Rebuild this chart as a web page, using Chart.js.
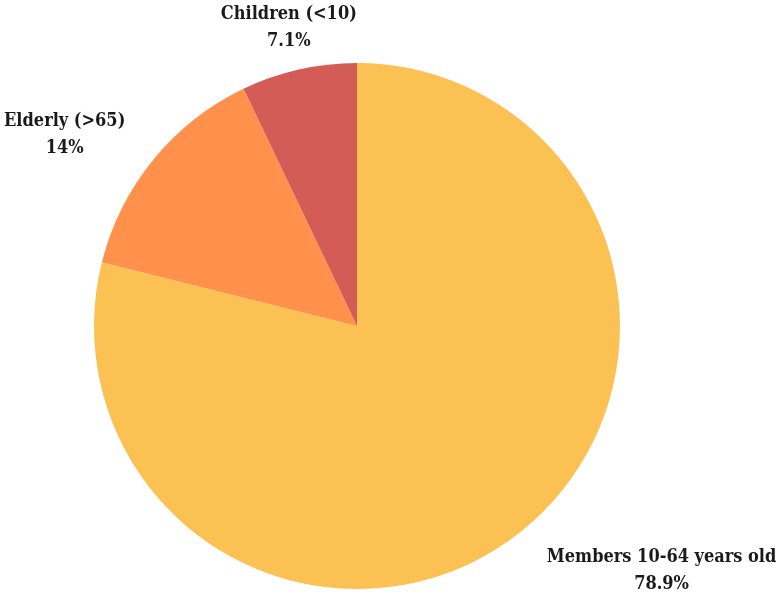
<!DOCTYPE html>
<html>
<head>
<meta charset="utf-8">
<script src="https://cdn.jsdelivr.net/npm/chart.js@4.4.0/dist/chart.umd.min.js"></script>
<style>
html,body{margin:0;padding:0;background:#fff;}
#c{display:block;}
</style>
</head>
<body>
<canvas id="c" width="784" height="596"></canvas>
<script>
const categories = ["Members 10-64 years old", "Elderly (>65)", "Children (<10)"];
const values = [78.9, 14, 7.1];
const valueLabels = ["78.9%", "14%", "7.1%"];
const colors = ["#FBC152", "#FF914D", "#D35D56"];

const FONT = "bold 18px 'DejaVu Serif Condensed', 'DejaVu Serif'";
const LINE = 27;

const outsideLabels = {
  id: 'outsideLabels',
  afterDatasetsDraw(chart) {
    const ctx = chart.ctx;
    const meta = chart.getDatasetMeta(0);
    ctx.save();
    ctx.font = FONT;
    try { ctx.fontStretch = 'condensed'; } catch (e) {}
    ctx.fillStyle = '#1a1a1a';
    ctx.textBaseline = 'middle';
    meta.data.forEach((arc, i) => {
      const mid = (arc.startAngle + arc.endAngle) / 2;
      const cx = arc.x, cy = arc.y, r = arc.outerRadius;
      const ex = cx + r * Math.cos(mid);
      const ey = cy + r * Math.sin(mid);
      const sx = Math.cos(mid), sy = Math.sin(mid);
      const lines = [categories[i], valueLabels[i]];
      const w = Math.max(...lines.map(t => ctx.measureText(t).width));
      const h = LINE * lines.length;
      let left, top;
      if (Math.abs(sx) < 0.35) {
        left = ex - w / 2 - 10;
        top = sy < 0 ? ey - h - 15 : ey + 16;
      } else if (sx < 0) {
        left = ex - 28 - w;
        top = sy < 0 ? ey - h + 2 : ey - 2;
      } else {
        left = ex + 28;
        top = sy < 0 ? ey - h - 10 : ey + 11;
      }
      lines.forEach((t, k) => {
        ctx.textAlign = 'center';
        ctx.fillText(t, left + w / 2, top + LINE * k + LINE / 2);
      });
    });
    ctx.restore();
  }
};

new Chart(document.getElementById('c'), {
  type: 'pie',
  data: {
    labels: categories,
    datasets: [{
      data: values,
      backgroundColor: colors,
      borderWidth: 0,
      hoverBorderWidth: 0,
      hoverOffset: 0
    }]
  },
  options: {
    responsive: false,
    animation: false,
    layout: { padding: { left: 94, right: 164, top: 63, bottom: 7 } },
    plugins: {
      legend: { display: false },
      tooltip: { enabled: false }
    }
  },
  plugins: [outsideLabels]
});
</script>
</body>
</html>
